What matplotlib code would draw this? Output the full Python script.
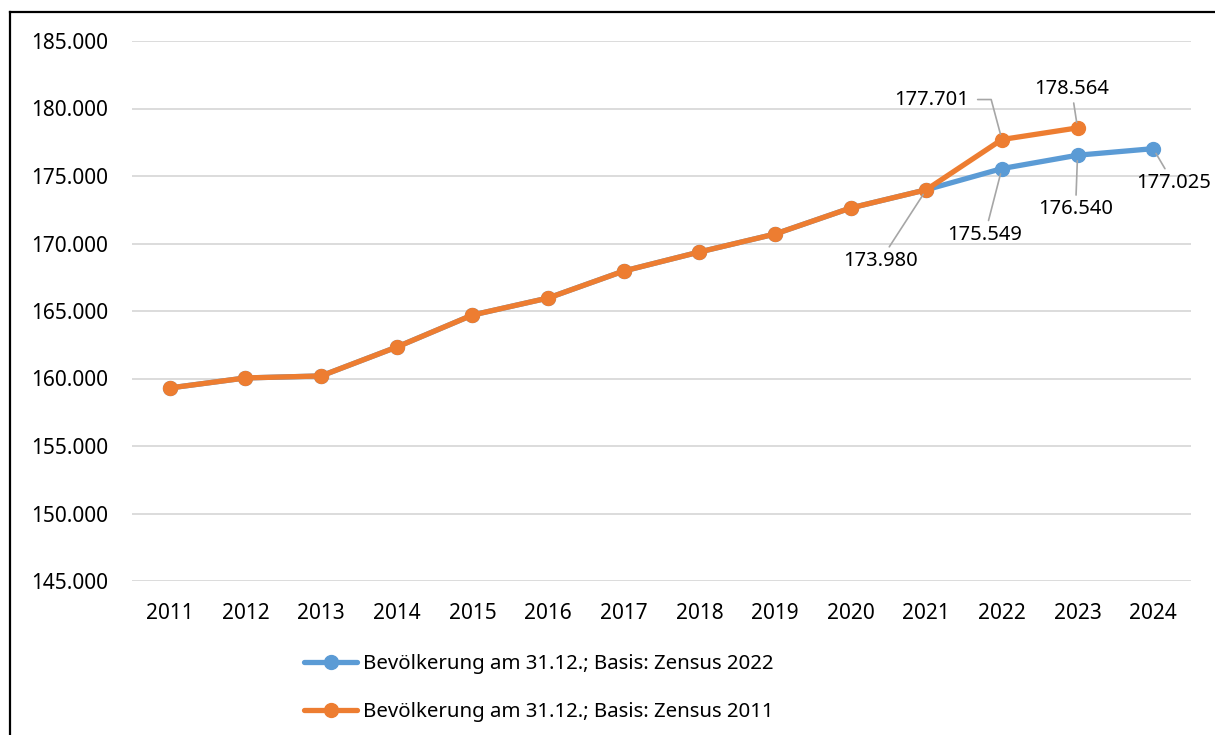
import numpy as np
import matplotlib.pyplot as plt
from matplotlib.lines import Line2D

plt.rcParams['font.family'] = ['Noto Sans', 'DejaVu Sans']

jahre = ['2011', '2012', '2013', '2014', '2015', '2016', '2017',
         '2018', '2019', '2020', '2021', '2022', '2023', '2024']
# Basis Zensus 2011 (bis 2023)
zensus_2011 = [159300, 160040, 160190, 162330, 164700, 165960, 167960,
               169370, 170700, 172630, 173980, 177701, 178564]
# Basis Zensus 2022 (bis 2021 identisch)
zensus_2022 = [159300, 160040, 160190, 162330, 164700, 165960, 167960,
               169370, 170700, 172630, 173980, 175549, 176540, 177025]
y_ticks = [145000, 150000, 155000, 160000, 165000, 170000, 175000, 180000, 185000]

blau = '#5b9bd5'
orange = '#ed7d31'

fig = plt.figure(figsize=(12.15, 7.35), dpi=100)
ax = fig.add_axes([132/1215, 1 - 581/735, (1191-132)/1215, (581-41)/735])

x22 = np.arange(len(zensus_2022))
x11 = np.arange(len(zensus_2011))
ax.plot(x22, zensus_2022, color=blau, lw=3.8, marker='o', ms=10, zorder=3,
        label='Bevölkerung am 31.12.; Basis: Zensus 2022', solid_capstyle='round')
ax.plot(x11, zensus_2011, color=orange, lw=3.8, marker='o', ms=10, zorder=4,
        label='Bevölkerung am 31.12.; Basis: Zensus 2011', solid_capstyle='round')

ax.set_xlim(-0.5, len(jahre) - 0.5)
ax.set_ylim(145000, 185000)
ax.set_xticks(x22)
ax.set_xticklabels(jahre)
ax.set_yticks(y_ticks)
ax.set_yticklabels([f'{v:,}'.replace(',', '.') for v in y_ticks])
ax.tick_params(axis='both', length=0, labelsize=15, colors='black')
ax.tick_params(axis='x', pad=16)
ax.tick_params(axis='y', pad=17)
ax.yaxis.grid(True, color='#d9d9d9', lw=1.3)
ax.set_axisbelow(True)
for s in ax.spines.values():
    s.set_visible(False)

def fmt(v):
    return f'{v:,}'.replace(',', '.')

grau = '#a6a6a6'
# (serie, index, dx, dy) in pixeln
labels = [
    (zensus_2022, 10, -46, -71),
    (zensus_2022, 11, -17, -66),
    (zensus_2022, 12, -2, -54),
    (zensus_2022, 13, 20, -34),
    (zensus_2011, 12, -6, 39),
]
for serie, i, dx, dy in labels:
    ax.annotate(fmt(serie[i]), (i, serie[i]), xytext=(dx, dy),
                textcoords='offset pixels', ha='center', va='center',
                fontsize=14.5, zorder=5,
                arrowprops=dict(arrowstyle='-', color=grau, lw=1.2,
                                shrinkA=1, shrinkB=4))
ax.annotate(fmt(zensus_2011[11]), (11, zensus_2011[11]), xytext=(-70, 40),
            textcoords='offset pixels', ha='center', va='center',
            fontsize=14.5, zorder=5,
            arrowprops=dict(arrowstyle='-', color=grau, lw=1.2, relpos=(1, 0.5),
                            shrinkA=4, shrinkB=4,
                            connectionstyle='angle,angleA=0,angleB=105,rad=0'))

leg = fig.legend(loc='upper left', bbox_to_anchor=(296/1215, 1 - 646/735),
                 frameon=False, fontsize=14.7, handlelength=2.6,
                 handletextpad=0.3, labelspacing=1.35, borderaxespad=0)

# rahmen links und oben
fig.add_artist(Line2D([9.5/1215, 9.5/1215], [0, 1 - 11.5/735], color='black', lw=1.6))
fig.add_artist(Line2D([9.5/1215, 1], [1 - 11.5/735, 1 - 11.5/735], color='black', lw=1.6))

fig.savefig('out.png', dpi=100)
